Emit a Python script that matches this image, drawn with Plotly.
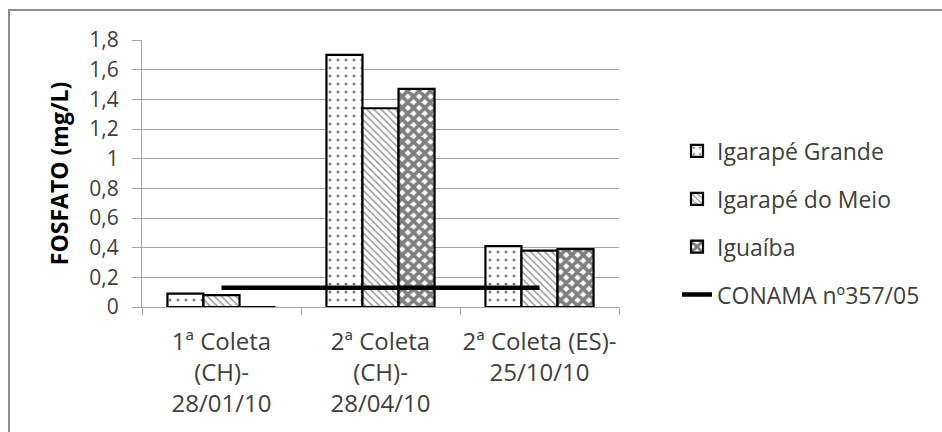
import plotly.graph_objects as go

# Sampling campaigns (x categories)
coletas = [
    "1ª Coleta<br>(CH)-<br>28/01/10",
    "2ª Coleta<br>(CH)-<br>28/04/10",
    "2ª Coleta (ES)-<br>25/10/10",
]

# Phosphate concentration (mg/L) per site
igarape_grande = [0.09, 1.70, 0.41]
igarape_meio = [0.08, 1.34, 0.38]
iguaiba = [0.0, 1.47, 0.39]

# CONAMA 357/05 reference limit
conama = [0.13, 0.13, 0.13]

y_ticks = [0, 0.2, 0.4, 0.6, 0.8, 1.0, 1.2, 1.4, 1.6, 1.8]
y_tick_text = ["0", "0,2", "0,4", "0,6", "0,8", "1", "1,2", "1,4", "1,6", "1,8"]

FONT = "'Open Sans', Lato, sans-serif"
TXT = "#404040"
GRID = "#a6a6a6"
FS = 23

fig = go.Figure()

bar_line = dict(color="black", width=2.2)

fig.add_trace(go.Bar(
    x=coletas, y=igarape_grande, name="Igarapé Grande",
    legendgroup="g1",
    marker=dict(color="white", line=bar_line,
                pattern=dict(shape=".", fgcolor="black", bgcolor="white",
                             size=8, solidity=0.12, fillmode="overlay")),
))
fig.add_trace(go.Bar(
    x=coletas, y=igarape_meio, name="Igarapé do Meio",
    legendgroup="g2",
    marker=dict(color="white", line=bar_line,
                pattern=dict(shape="\\", fgcolor="#333333", bgcolor="white",
                             size=5, solidity=0.3, fillmode="overlay")),
))
fig.add_trace(go.Bar(
    x=coletas, y=iguaiba, name="Iguaíba",
    legendgroup="g3",
    marker=dict(color="white", line=bar_line,
                pattern=dict(shape="x", fgcolor="black", bgcolor="white",
                             size=8, solidity=0.7, fillmode="overlay")),
))
fig.add_trace(go.Scatter(
    x=coletas, y=conama, name="CONAMA nº357/05",
    legendgroup="g4",
    mode="lines",
    line=dict(color="black", width=4.5),
))

fig.update_layout(
    width=942, height=432,
    margin=dict(l=142, r=323, t=40, b=125),
    paper_bgcolor="white", plot_bgcolor="white",
    barmode="group", bargap=0.32, bargroupgap=0,
    font=dict(family=FONT, size=FS, color=TXT),
    showlegend=True,
    legend=dict(
        x=1.1216, xanchor="left", y=0.665, yanchor="top",
        font=dict(family=FONT, size=FS, color=TXT),
        tracegroupgap=15, bgcolor="rgba(0,0,0,0)",
    ),
    shapes=[
        dict(type="rect", xref="paper", yref="paper",
             x0=(9 - 142) / 477, x1=(960 - 142) / 477,
             y0=(307 - 445) / 267, y1=(307 - 10) / 267,
             line=dict(color="#8c8c8c", width=2), fillcolor="rgba(0,0,0,0)",
             layer="below"),
    ],
)

fig.update_xaxes(
    showline=True, linecolor=GRID, linewidth=1,
    ticks="outside", tickson="boundaries", ticklen=7, tickcolor=GRID,
    showgrid=False, tickangle=0, automargin=False,
    ticklabelstandoff=13,
    tickfont=dict(family=FONT, size=24, color=TXT),
)
fig.update_yaxes(
    range=[0, 1.8],
    tickvals=y_ticks, ticktext=y_tick_text,
    showline=True, linecolor=GRID, linewidth=1,
    ticks="outside", ticklen=9, tickcolor=GRID,
    showgrid=True, gridcolor=GRID, gridwidth=1,
    zeroline=False, automargin=False,
    ticklabelstandoff=9,
    tickfont=dict(family=FONT, size=21, color=TXT),
    title=dict(text="<b>FOSFATO (mg/L)</b>", standoff=14,
               font=dict(family=FONT, size=23, color="black")),
)

fig.write_html("out.html")
